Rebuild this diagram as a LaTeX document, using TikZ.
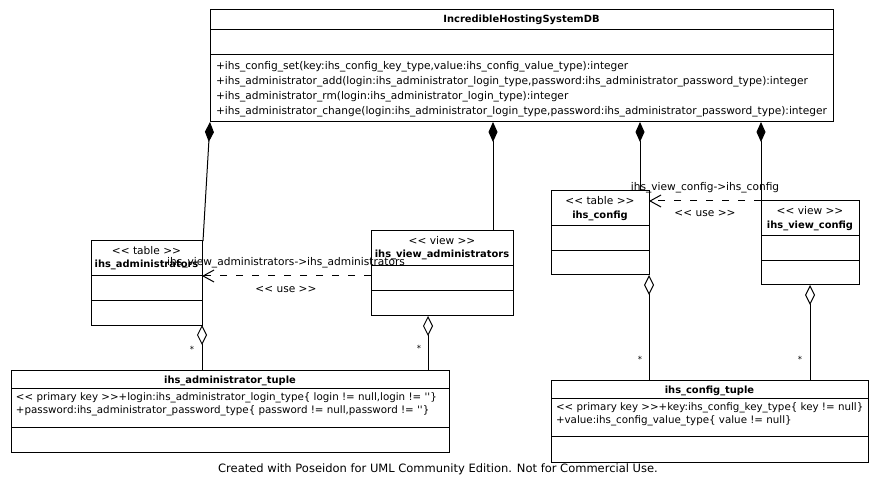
\documentclass[tikz,border=0pt]{standalone}
\usepackage{fontspec}
\newfontfamily\umlfont{DejaVu Sans}
\usetikzlibrary{arrows.meta,calc}
\begin{document}
\begin{tikzpicture}[x=1pt,y=-1pt,
  every node/.style={font=\umlfont\fontsize{10.6}{12}\selectfont, inner sep=0pt, outer sep=0pt},
  cls/.style={draw, line width=1pt, rectangle, anchor=north west},
  ttl/.style={font=\umlfont\bfseries\fontsize{9.9}{11}\selectfont},
  txt/.style={anchor=west},
  atxt/.style={anchor=west, font=\umlfont\fontsize{10.3}{12}\selectfont},
  cline/.style={line width=1pt},
  comp/.style={line width=1pt, {Diamond[length=20pt,width=9pt]}-},
  agg/.style={line width=1pt, {Diamond[open,length=20pt,width=10pt,fill=white]}-},
  dep/.style={line width=1pt, dash pattern=on 7pt off 9pt, -{Straight Barb[length=11pt,width=12pt]}},
  star/.style={font=\umlfont\fontsize{8.5}{9}\selectfont},
  foot/.style={font=\umlfont\fontsize{11.5}{13}\selectfont}
]
\useasboundingbox[fill=white] (0,0) rectangle (878,494);

% ---------- main class ----------
\node[cls, minimum width=623pt, minimum height=112pt] (main) at (210,10) {};
\draw[cline] ([yshift=-19.5pt]main.north west) -- ([yshift=-19.5pt]main.north east);
\draw[cline] ([yshift=-45pt]main.north west) -- ([yshift=-45pt]main.north east);
\node[ttl] (mainT) at (521.5,20) {IncredibleHostingSystemDB};
\node[txt] (m1) at (216,67) {+ihs\_config\_set(key:ihs\_config\_key\_type,value:ihs\_config\_value\_type):integer};
\node[txt] (m2) at (216,82) {+ihs\_administrator\_add(login:ihs\_administrator\_login\_type,password:ihs\_administrator\_password\_type):integer};
\node[txt] (m3) at (216,97) {+ihs\_administrator\_rm(login:ihs\_administrator\_login\_type):integer};
\node[txt] (m4) at (216,112) {+ihs\_administrator\_change(login:ihs\_administrator\_login\_type,password:ihs\_administrator\_password\_type):integer};

% ---------- ihs_administrators ----------
\node[cls, minimum width=111pt, minimum height=84pt] (adm) at (91,241) {};
\draw[cline] ([yshift=-35pt]adm.north west) -- ([yshift=-35pt]adm.north east);
\draw[cline] ([yshift=-59.5pt]adm.north west) -- ([yshift=-59.5pt]adm.north east);
\node (admS) at (146.5,251) {<< table >>};
\node[ttl] (admT) at (146.5,264.5) {ihs\_administrators};

% ---------- ihs_view_administrators ----------
\node[cls, minimum width=142pt, minimum height=85pt] (vadm) at (371,231) {};
\draw[cline] ([yshift=-35pt]vadm.north west) -- ([yshift=-35pt]vadm.north east);
\draw[cline] ([yshift=-59.5pt]vadm.north west) -- ([yshift=-59.5pt]vadm.north east);
\node (vadmS) at (442,241) {<< view >>};
\node[ttl] (vadmT) at (442,255) {ihs\_view\_administrators};

% ---------- ihs_config ----------
\node[cls, minimum width=98pt, minimum height=84pt] (cfg) at (551,191) {};
\draw[cline] ([yshift=-35pt]cfg.north west) -- ([yshift=-35pt]cfg.north east);
\draw[cline] ([yshift=-59.5pt]cfg.north west) -- ([yshift=-59.5pt]cfg.north east);
\node (cfgS) at (600,201) {<< table >>};
\node[ttl] (cfgT) at (600,216) {ihs\_config};

% ---------- ihs_view_config ----------
\node[cls, minimum width=98pt, minimum height=84pt] (vcfg) at (761,201) {};
\draw[cline] ([yshift=-35pt]vcfg.north west) -- ([yshift=-35pt]vcfg.north east);
\draw[cline] ([yshift=-59.5pt]vcfg.north west) -- ([yshift=-59.5pt]vcfg.north east);
\node (vcfgS) at (810,211) {<< view >>};
\node[ttl] (vcfgT) at (810,226) {ihs\_view\_config};

% ---------- ihs_administrator_tuple ----------
\node[cls, minimum width=438pt, minimum height=82pt] (atup) at (11,370) {};
\draw[cline] ([yshift=-18.5pt]atup.north west) -- ([yshift=-18.5pt]atup.north east);
\draw[cline] ([yshift=-57pt]atup.north west) -- ([yshift=-57pt]atup.north east);
\node[ttl] (atupT) at (230,381) {ihs\_administrator\_tuple};
\node[atxt] (a1) at (16,398) {<< primary key >>+login:ihs\_administrator\_login\_type\{ login != null,login != ''\}};
\node[atxt] (a2) at (16,410.5) {+password:ihs\_administrator\_password\_type\{ password != null,password != ''\}};

% ---------- ihs_config_tuple ----------
\node[cls, minimum width=317pt, minimum height=82pt] (ctup) at (551,380) {};
\draw[cline] ([yshift=-18.5pt]ctup.north west) -- ([yshift=-18.5pt]ctup.north east);
\draw[cline] ([yshift=-56pt]ctup.north west) -- ([yshift=-56pt]ctup.north east);
\node[ttl] (ctupT) at (709.5,391) {ihs\_config\_tuple};
\node[atxt] (c1) at (556,408) {<< primary key >>+key:ihs\_config\_key\_type\{ key != null\}};
\node[atxt] (c2) at (556,420.5) {+value:ihs\_config\_value\_type\{ value != null\}};

% ---------- compositions ----------
\coordinate (p2) at (493,231);
\coordinate (p3) at (640,191);
\draw[comp] (main.south west) -- ([xshift=1pt]adm.north east);
\draw[comp] (main.south -| p2) -- (p2);
\draw[comp] (main.south -| p3) -- (p3);
\draw[comp] (main.south -| vcfg.north west) -- (vcfg.north west);

% ---------- dependencies ----------
\coordinate (d1) at (0,276);
\draw[dep] (vadm.west |- d1) -- (adm.east |- d1);
\node (dl1) at (286,263) {ihs\_view\_administrators->ihs\_administrators};
\node (du1) at (286,289) {<< use >>};
\draw[dep] (vcfg.north west) -- (cfg.east |- vcfg.north west);
\node (dl2) at (705,188) {ihs\_view\_config->ihs\_config};
\node (du2) at (705,213) {<< use >>};

% ---------- aggregations ----------
\coordinate (q2) at (428,316);
\draw[agg] (adm.south east) -- (adm.south east |- atup.north);
\draw[agg] (q2) -- (q2 |- atup.north);
\draw[agg] (cfg.south east) -- (cfg.south east |- ctup.north);
\draw[agg] (vcfg.south) -- (vcfg.south |- ctup.north);
\node[star] (s1) at (192,349) {*};
\node[star] (s2) at (419,348) {*};
\node[star] (s3) at (640,359) {*};
\node[star] (s4) at (800,359) {*};

% ---------- footer ----------
\node[foot] (ft) at (438,469) {Created with Poseidon for UML Community Edition. Not for Commercial Use.};
\end{tikzpicture}
\end{document}
